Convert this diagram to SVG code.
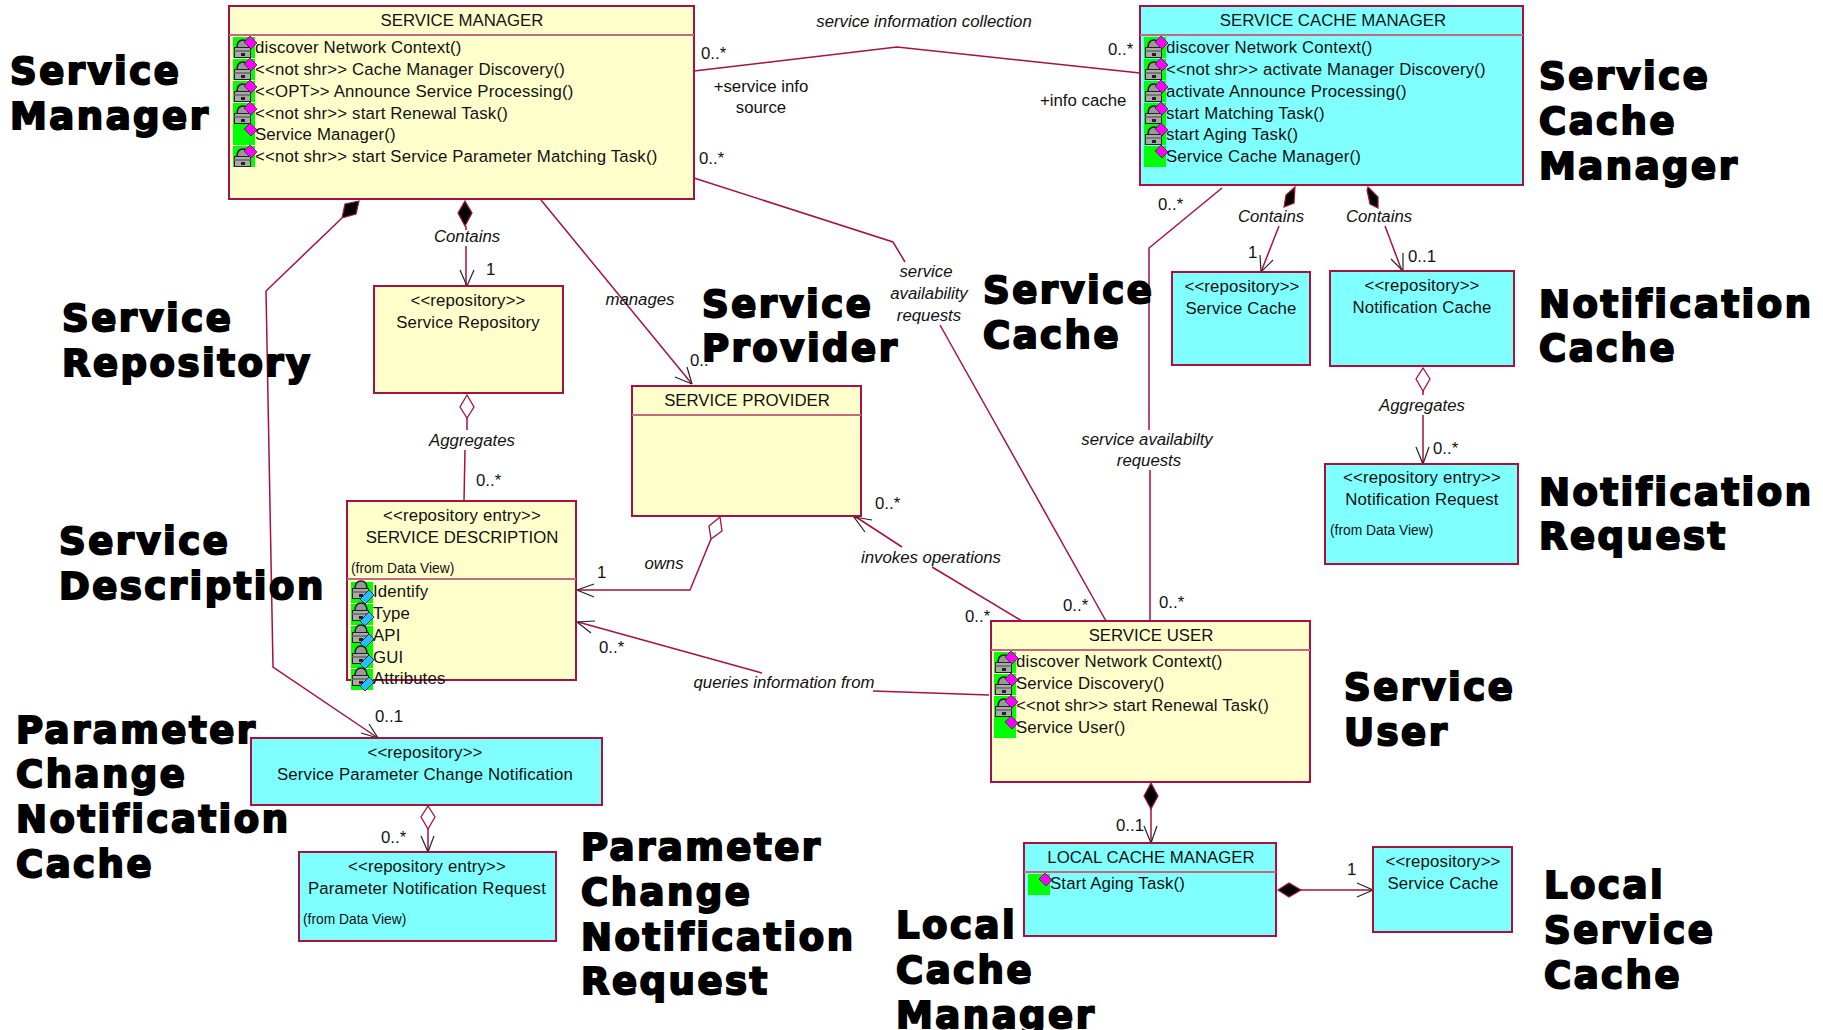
<svg xmlns="http://www.w3.org/2000/svg" width="1823" height="1030" viewBox="0 0 1823 1030">
<style>
text{font-family:"Liberation Sans",Arial,sans-serif;font-size:16.8px;fill:#111}
.n text{letter-spacing:.16px}
.n text.u{letter-spacing:0}
.c{text-anchor:middle}
.i{font-style:italic}
.n text.s,.s{font-size:13.8px;letter-spacing:0}
.big{font-family:"DejaVu Sans",Verdana,sans-serif;font-weight:700;font-size:37px;letter-spacing:2.5px;fill:#000;stroke:#000;stroke-width:2px}
.y{fill:#ffffcc;stroke:#a5123f;stroke-width:2}
.b{fill:#80ffff;stroke:#a5123f;stroke-width:2}
.h{stroke:#c46a80;stroke-width:2;fill:none}
.l{stroke:#a5123f;stroke-width:1.5;fill:none}
.a{stroke:#222;stroke-width:1.2;fill:none}
.fd{fill:#000;stroke:#a5123f;stroke-width:1.2}
.od{fill:#fff;stroke:#a5123f;stroke-width:1.3}
</style>
<defs>
<path id="dm" d="M17 -1L24 6L18 12L11 5z" fill="#ff00ff" stroke="#222" stroke-width=".7"/>
<g id="lock"><path d="M4 11Q4 3 10 3Q16 3 16 11z" fill="#999" stroke="#222" stroke-width="1.6"/><rect x="1.5" y="10.5" width="16" height="10" fill="#aaa" stroke="#222"/><rect x="1.5" y="13" width="16" height="2" fill="#777"/><rect x="8" y="16" width="4" height="3" fill="#222"/></g>
<g id="op"><rect width="22" height="21" fill="#00ff00"/><use href="#lock"/><use href="#dm"/></g>
<g id="pub"><rect width="22" height="21" fill="#00ff00"/><use href="#dm"/></g>
<g id="attr"><rect width="22" height="21" fill="#00ff00"/><use href="#lock" y="-4"/><path d="M18 8L23 13L14 22L9 17z" fill="#22c0ff" stroke="#113" stroke-width=".8"/></g>
</defs>

<g id="connectors">
<path class="l" d="M694 71L897 47L1140 73"/>
<path class="l" d="M694 178L893 242L905 262"/>
<path class="l" d="M940 325L1106 621"/>
<path class="l" d="M541 200L692 384"/>
<path class="a" d="M692 384l-5-17M692 384l-17-7"/>
<path class="l" d="M342 218L266 291L273 667L378 738"/>
<path class="a" d="M361 733L378 738L369 724"/>
<path class="fd" d="M359 201L345 204L342 218L356 214z"/>
<path class="l" d="M466 226V230M466 246V286"/>
<path class="fd" d="M465 201l7 12-7 13-7-13z"/>
<path class="a" d="M460 270L467 286L474 270"/>
<path class="l" d="M467 418V430M465 450L464 501"/>
<path class="od" d="M467 395l7 12-7 11-7-11z"/>
<path class="l" d="M711 539L690 590H578"/>
<path class="od" d="M720 517L709 526L711 539L722 531z"/>
<path class="a" d="M594 584L577 590L594 597"/>
<path class="l" d="M989 695L873 691M762 673L578 622"/>
<path class="a" d="M595 621L577 622L591 633"/>
<path class="l" d="M1022 621L932 567M902 547L856 517"/>
<path class="a" d="M872 520L854 517L865 532"/>
<path class="l" d="M1150 621V470M1149 430V248L1222 188"/>
<path class="fd" d="M1295 187L1286 195L1284 207L1294 203z"/>
<path class="l" d="M1279 226L1261 272"/>
<path class="a" d="M1260 255L1261 272L1273 260"/>
<path class="fd" d="M1368 187L1378 197L1378 208L1370 204L1367 190z"/>
<path class="l" d="M1385 226L1402 271"/>
<path class="a" d="M1391 259L1403 271L1403 253"/>
<path class="l" d="M1423 391V395M1423 415V464"/>
<path class="od" d="M1423 368l7 11-7 12-7-12z"/>
<path class="a" d="M1416 447L1423 464L1429 447"/>
<path class="l" d="M1151 807V843"/>
<path class="fd" d="M1151 783l7 13-7 13-7-13z"/>
<path class="a" d="M1144 826L1151 843L1157 826"/>
<path class="l" d="M1300 890H1373"/>
<path class="fd" d="M1278 890l11-7 12 7-12 7z"/>
<path class="a" d="M1357 883L1373 890L1357 897"/>
<path class="l" d="M428 829V852"/>
<path class="od" d="M428 806l7 11-7 12-7-12z"/>
<path class="a" d="M421 836L428 852L434 836"/>
</g>

<g id="service-manager" class="n">
<rect class="y" x="229" y="6" width="465" height="193"/><path class="h" d="M229 35H694"/>
<text class="c u" x="462" y="26">SERVICE MANAGER</text>
<use href="#op" x="233" y="37"/><text x="255" y="52.5">discover Network Context()</text>
<use href="#op" x="233" y="59"/><text x="255" y="74.5">&lt;&lt;not shr&gt;&gt; Cache Manager Discovery()</text>
<use href="#op" x="233" y="81"/><text x="255" y="96.5">&lt;&lt;OPT&gt;&gt; Announce Service Processing()</text>
<use href="#op" x="233" y="103"/><text x="255" y="118.5">&lt;&lt;not shr&gt;&gt; start Renewal Task()</text>
<use href="#pub" x="233" y="124"/><text x="255" y="139.5">Service Manager()</text>
<use href="#op" x="233" y="146"/><text x="255" y="161.5">&lt;&lt;not shr&gt;&gt; start Service Parameter Matching Task()</text>
</g>
<g id="service-cache-manager" class="n">
<rect class="b" x="1140" y="6" width="383" height="179"/><path class="h" d="M1140 35H1523"/>
<text class="c u" x="1333" y="26">SERVICE CACHE MANAGER</text>
<use href="#op" x="1144" y="37"/><text x="1166" y="52.5">discover Network Context()</text>
<use href="#op" x="1144" y="59"/><text x="1166" y="74.5">&lt;&lt;not shr&gt;&gt; activate Manager Discovery()</text>
<use href="#op" x="1144" y="81"/><text x="1166" y="96.5">activate Announce Processing()</text>
<use href="#op" x="1144" y="103"/><text x="1166" y="118.5">start Matching Task()</text>
<use href="#op" x="1144" y="124"/><text x="1166" y="139.5">start Aging Task()</text>
<use href="#pub" x="1144" y="146"/><text x="1166" y="161.5">Service Cache Manager()</text>
</g>
<g id="service-repository" class="n">
<rect class="y" x="374" y="286" width="189" height="107"/>
<text class="c" x="468" y="306">&lt;&lt;repository&gt;&gt;</text><text class="c" x="468" y="328">Service Repository</text>
</g>
<g id="service-provider" class="n">
<rect class="y" x="632" y="386" width="229" height="130"/><path class="h" d="M632 415H861"/>
<text class="c u" x="747" y="406">SERVICE PROVIDER</text>
</g>
<g id="service-description" class="n">
<rect class="y" x="347" y="501" width="229" height="179"/><path class="h" d="M347 579H576"/>
<text class="c" x="462" y="521">&lt;&lt;repository entry&gt;&gt;</text><text class="c u" x="462" y="543">SERVICE DESCRIPTION</text>
<text class="s" x="351" y="573">(from Data View)</text>
<use href="#attr" x="351" y="582"/><text x="373" y="597">Identify</text>
<use href="#attr" x="351" y="604"/><text x="373" y="619">Type</text>
<use href="#attr" x="351" y="626"/><text x="373" y="641">API</text>
<use href="#attr" x="351" y="647"/><text x="373" y="663">GUI</text>
<use href="#attr" x="351" y="669"/><text x="373" y="684">Attributes</text>
</g>
<g id="service-user" class="n">
<rect class="y" x="991" y="621" width="319" height="161"/><path class="h" d="M991 650H1310"/>
<text class="c u" x="1151" y="641">SERVICE USER</text>
<use href="#op" x="994" y="652"/><text x="1016" y="667">discover Network Context()</text>
<use href="#op" x="994" y="674"/><text x="1016" y="689">Service Discovery()</text>
<use href="#op" x="994" y="696"/><text x="1016" y="711">&lt;&lt;not shr&gt;&gt; start Renewal Task()</text>
<use href="#pub" x="994" y="717"/><text x="1016" y="733">Service User()</text>
</g>
<g id="local-cache-manager" class="n">
<rect class="b" x="1024" y="843" width="252" height="93"/><path class="h" d="M1024 872H1276"/>
<text class="c u" x="1151" y="863">LOCAL CACHE MANAGER</text>
<use href="#pub" x="1028" y="874"/><text x="1050" y="889">Start Aging Task()</text>
</g>
<g id="local-service-cache" class="n">
<rect class="b" x="1373" y="847" width="139" height="85"/>
<text class="c" x="1443" y="867">&lt;&lt;repository&gt;&gt;</text><text class="c" x="1443" y="889">Service Cache</text>
</g>
<g id="service-cache" class="n">
<rect class="b" x="1172" y="272" width="138" height="93"/>
<text class="c" x="1242" y="292">&lt;&lt;repository&gt;&gt;</text><text class="c" x="1241" y="314">Service Cache</text>
</g>
<g id="notification-cache" class="n">
<rect class="b" x="1330" y="271" width="184" height="95"/>
<text class="c" x="1422" y="291">&lt;&lt;repository&gt;&gt;</text><text class="c" x="1422" y="313">Notification Cache</text>
</g>
<g id="notification-request" class="n">
<rect class="b" x="1325" y="464" width="193" height="100"/>
<text class="c" x="1422" y="483">&lt;&lt;repository entry&gt;&gt;</text><text class="c" x="1422" y="505">Notification Request</text>
<text class="s" x="1330" y="535">(from Data View)</text>
</g>
<g id="param-change-cache" class="n">
<rect class="b" x="251" y="738" width="351" height="67"/>
<text class="c" x="425" y="758">&lt;&lt;repository&gt;&gt;</text><text class="c" x="425" y="780">Service Parameter Change Notification</text>
</g>
<g id="param-notification-request" class="n">
<rect class="b" x="299" y="852" width="257" height="89"/>
<text class="c" x="427" y="872">&lt;&lt;repository entry&gt;&gt;</text><text class="c" x="427" y="894">Parameter Notification Request</text>
<text class="s" x="303" y="924">(from Data View)</text>
</g>

<g id="labels">
<text class="c i" x="924" y="27">service information collection</text>
<text x="701" y="59">0..*</text><text x="1108" y="55">0..*</text>
<text class="c" x="761" y="92">+service info</text><text class="c" x="761" y="113">source</text>
<text x="1040" y="106">+info cache</text>
<text x="699" y="164">0..*</text><text x="1158" y="210">0..*</text>
<text class="c i" x="1271" y="222">Contains</text><text class="c i" x="1379" y="222">Contains</text>
<text x="1248" y="258">1</text><text x="1408" y="262">0..1</text>
<text class="c i" x="467" y="242">Contains</text><text x="486" y="275">1</text>
<text class="c i" x="640" y="305">manages</text><text x="690" y="366">0..</text>
<text class="c i" x="926" y="277">service</text><text class="c i" x="929" y="299">availability</text><text class="c i" x="929" y="321">requests</text>
<text class="c i" x="1147" y="445">service availabilty</text><text class="c i" x="1149" y="466">requests</text>
<text class="c i" x="1422" y="411">Aggregates</text><text x="1433" y="454">0..*</text>
<text class="c i" x="472" y="446">Aggregates</text><text x="476" y="486">0..*</text>
<text x="875" y="509">0..*</text><text class="c i" x="931" y="563">invokes operations</text>
<text class="c i" x="664" y="569">owns</text><text x="597" y="578">1</text>
<text x="599" y="653">0..*</text><text class="c i" x="784" y="688">queries information from</text>
<text x="965" y="622">0..*</text><text x="1063" y="611">0..*</text><text x="1159" y="608">0..*</text>
<text x="375" y="722">0..1</text><text x="381" y="843">0..*</text>
<text x="1116" y="831">0..1</text><text x="1347" y="875">1</text>
</g>

<g id="big-labels">
<text class="big" x="10" y="84">Service</text><text class="big" x="10" y="129">Manager</text>
<text class="big" x="1539" y="89">Service</text><text class="big" x="1539" y="134">Cache</text><text class="big" x="1539" y="179">Manager</text>
<text class="big" x="62" y="331">Service</text><text class="big" x="62" y="376">Repository</text>
<text class="big" x="702" y="317">Service</text><text class="big" x="702" y="361">Provider</text>
<text class="big" x="983" y="303">Service</text><text class="big" x="983" y="348">Cache</text>
<text class="big" x="1539" y="317">Notification</text><text class="big" x="1539" y="361">Cache</text>
<text class="big" x="1539" y="505">Notification</text><text class="big" x="1539" y="549">Request</text>
<text class="big" x="59" y="554">Service</text><text class="big" x="59" y="599">Description</text>
<text class="big" x="1344" y="700">Service</text><text class="big" x="1344" y="745">User</text>
<text class="big" x="16" y="743">Parameter</text><text class="big" x="16" y="787">Change</text><text class="big" x="16" y="832">Notification</text><text class="big" x="16" y="877">Cache</text>
<text class="big" x="581" y="860">Parameter</text><text class="big" x="581" y="905">Change</text><text class="big" x="581" y="950">Notification</text><text class="big" x="581" y="994">Request</text>
<text class="big" x="896" y="938">Local</text><text class="big" x="896" y="983">Cache</text><text class="big" x="896" y="1028">Manager</text>
<text class="big" x="1544" y="898">Local</text><text class="big" x="1544" y="943">Service</text><text class="big" x="1544" y="988">Cache</text>
</g>
</svg>
